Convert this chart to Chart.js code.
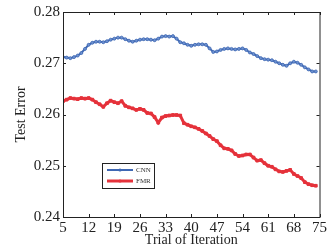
<!DOCTYPE html>
<html>
<head>
<meta charset="utf-8">
<script src="https://cdn.jsdelivr.net/npm/chart.js@4"></script>
<style>
  body { margin: 0; background: #fff; }
  #wrap { width: 329px; height: 249px; }
</style>
</head>
<body>
<div id="wrap"><canvas id="errChart" width="329" height="249"></canvas></div>
<script>
// iterations 5..74
const iterations = [5, 6, 7, 8, 9, 10, 11, 12, 13, 14, 15, 16, 17, 18, 19, 20, 21, 22, 23, 24,
  25, 26, 27, 28, 29, 30, 31, 32, 33, 34, 35, 36, 37, 38, 39, 40, 41, 42, 43, 44,
  45, 46, 47, 48, 49, 50, 51, 52, 53, 54, 55, 56, 57, 58, 59, 60, 61, 62, 63, 64,
  65, 66, 67, 68, 69, 70, 71, 72, 73, 74];

const cnnError = [0.2712, 0.2711, 0.2710, 0.2712, 0.2715, 0.2720, 0.2728, 0.2736, 0.2740, 0.2742,
  0.2742, 0.2741, 0.2743, 0.2746, 0.2748, 0.2750, 0.2750, 0.2747, 0.2744, 0.2742,
  0.2744, 0.2746, 0.2747, 0.2747, 0.2746, 0.2745, 0.2748, 0.2752, 0.2753, 0.2752,
  0.2753, 0.2748, 0.2741, 0.2739, 0.2736, 0.2734, 0.2736, 0.2737, 0.2737, 0.2736,
  0.2729, 0.2722, 0.2723, 0.2726, 0.2728, 0.2729, 0.2728, 0.2727, 0.2728, 0.2729,
  0.2726, 0.2721, 0.2718, 0.2714, 0.2710, 0.2708, 0.2707, 0.2706, 0.2703, 0.2700,
  0.2697, 0.2695, 0.2700, 0.2703, 0.2701, 0.2697, 0.2692, 0.2688, 0.2684, 0.2684];

const fmrError = [0.2626, 0.2629, 0.2632, 0.2631, 0.2630, 0.2632, 0.2631, 0.2632, 0.2629, 0.2624,
  0.2620, 0.2615, 0.2622, 0.2627, 0.2624, 0.2622, 0.2626, 0.2617, 0.2614, 0.2612,
  0.2609, 0.2611, 0.2609, 0.2603, 0.2602, 0.2595, 0.2584, 0.2594, 0.2597, 0.2598,
  0.2599, 0.2599, 0.2598, 0.2583, 0.2580, 0.2577, 0.2575, 0.2572, 0.2568, 0.2563,
  0.2558, 0.2552, 0.2548, 0.2540, 0.2534, 0.2533, 0.2530, 0.2523, 0.2519, 0.2520,
  0.2522, 0.2522, 0.2516, 0.2510, 0.2511, 0.2505, 0.2500, 0.2498, 0.2493, 0.2489,
  0.2488, 0.2490, 0.2492, 0.2484, 0.2480, 0.2476, 0.2468, 0.2464, 0.2462, 0.2461];

const xTicks = [5, 12, 19, 26, 33, 40, 47, 54, 61, 68, 75];
const yTicks = [0.24, 0.25, 0.26, 0.27, 0.28];
const seriesNames = ["CNN", "FMR"];

const serif = "'Liberation Serif', 'Times New Roman', serif";

// matlab style box + inward ticks
const boxPlugin = {
  id: "boxTicks",
  afterDraw(chart) {
    const { ctx, chartArea: a, scales } = chart;
    ctx.save();
    ctx.strokeStyle = "#222";
    ctx.lineWidth = 1;
    ctx.strokeRect(a.left + 0.5, a.top + 0.5, a.right - a.left, a.bottom - a.top);
    ctx.beginPath();
    xTicks.forEach(v => {
      const px = Math.round(scales.x.getPixelForValue(v)) + 0.5;
      ctx.moveTo(px, a.bottom); ctx.lineTo(px, a.bottom - 3);
      ctx.moveTo(px, a.top); ctx.lineTo(px, a.top + 3);
    });
    yTicks.forEach(v => {
      const py = Math.round(scales.y.getPixelForValue(v)) + 0.5;
      ctx.moveTo(a.left, py); ctx.lineTo(a.left + 3, py);
      ctx.moveTo(a.right, py); ctx.lineTo(a.right - 3, py);
    });
    ctx.stroke();
    ctx.restore();
  }
};

// small legend box inside the plot
const legendPlugin = {
  id: "boxLegend",
  afterDraw(chart) {
    const { ctx, chartArea: a } = chart;
    const x0 = a.left + 39, y0 = a.top + 151, w = 52, h = 25;
    ctx.save();
    ctx.fillStyle = "#fff";
    ctx.fillRect(x0, y0, w, h);
    ctx.strokeStyle = "#222";
    ctx.lineWidth = 1;
    ctx.strokeRect(x0 + 0.5, y0 + 0.5, w, h);
    chart.data.datasets.forEach((ds, i) => {
      const y = y0 + 7 + i * 11;
      ctx.strokeStyle = ds.borderColor;
      ctx.lineWidth = ds.borderWidth;
      ctx.beginPath();
      ctx.moveTo(x0 + 5, y); ctx.lineTo(x0 + 31, y);
      ctx.stroke();
      ctx.fillStyle = ds.borderColor;
      ctx.beginPath();
      ctx.arc(x0 + 18, y, 1.6, 0, Math.PI * 2);
      ctx.fill();
      ctx.fillStyle = "#333";
      ctx.font = "7px " + serif;
      ctx.textBaseline = "middle";
      ctx.fillText(ds.label, x0 + 34, y + 0.5);
    });
    ctx.restore();
  }
};

new Chart(document.getElementById("errChart"), {
  type: "line",
  data: {
    labels: iterations,
    datasets: [
      {
        label: seriesNames[0],
        data: iterations.map((x, i) => ({ x: x, y: cnnError[i] })),
        borderColor: "#3f68b4",
        backgroundColor: "#3f68b4",
        borderWidth: 2,
        pointRadius: 1.5,
        pointBorderWidth: 0.8,
        pointBackgroundColor: "#6f92d0",
        pointStyle: "circle",
        tension: 0
      },
      {
        label: seriesNames[1],
        data: iterations.map((x, i) => ({ x: x, y: fmrError[i] })),
        borderColor: "#e5323b",
        backgroundColor: "#e5323b",
        borderWidth: 3,
        pointRadius: 1.9,
        pointBorderWidth: 1,
        pointStyle: "rect",
        tension: 0
      }
    ]
  },
  options: {
    responsive: false,
    animation: false,
    layout: { padding: { top: 12, right: 8, left: 0, bottom: 0 } },
    plugins: { legend: { display: false }, tooltip: { enabled: false } },
    scales: {
      x: {
        type: "linear",
        min: 5,
        max: 75,
        afterBuildTicks: s => { s.ticks = xTicks.map(v => ({ value: v })); },
        afterFit: s => { s.height = 32; },
        grid: { display: false, drawTicks: false },
        border: { display: false },
        ticks: { color: "#222", font: { family: serif, size: 15 }, padding: 2, maxRotation: 0, autoSkip: false },
        title: { display: true, text: "Trial of Iteration", color: "#222", font: { family: serif, size: 14 }, padding: 0 }
      },
      y: {
        min: 0.24,
        max: 0.28,
        afterBuildTicks: s => { s.ticks = yTicks.map(v => ({ value: v })); },
        afterFit: s => { s.width = 63; },
        grid: { display: false, drawTicks: false },
        border: { display: false },
        ticks: { color: "#222", font: { family: serif, size: 15 }, padding: 3, callback: v => v.toFixed(2) },
        title: { display: true, text: "Test Error", color: "#222", font: { family: serif, size: 14 }, padding: { top: 13, bottom: 0 } }
      }
    }
  },
  plugins: [boxPlugin, legendPlugin]
});
</script>
</body>
</html>
